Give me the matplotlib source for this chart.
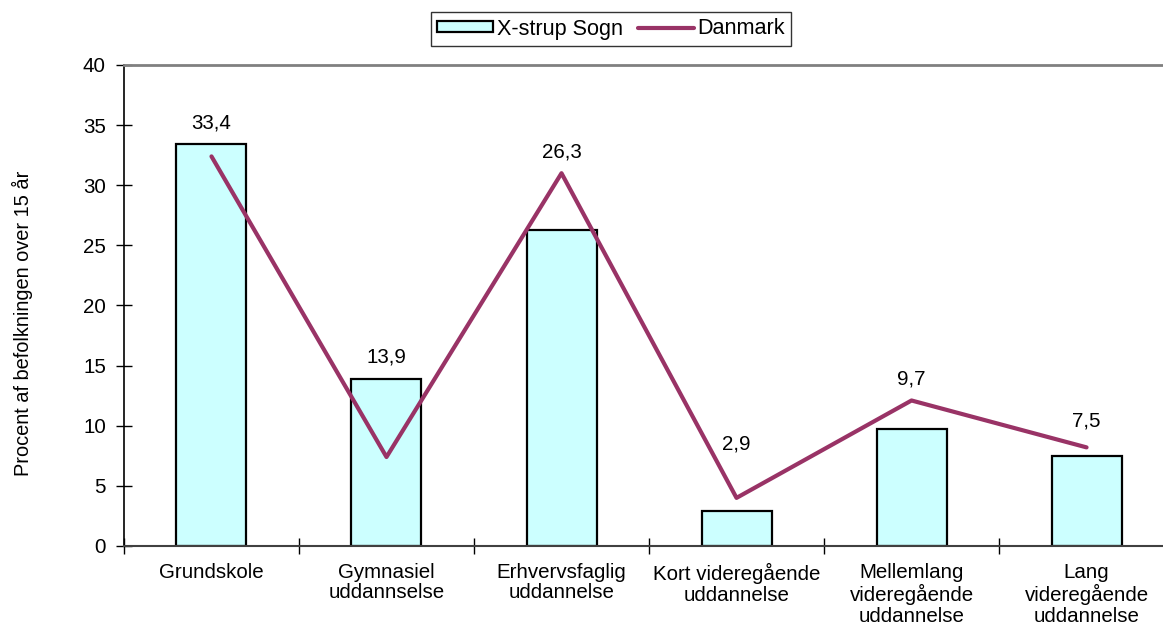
import matplotlib
matplotlib.use("Agg")
import matplotlib.pyplot as plt
import numpy as np

plt.rcParams['font.family'] = ['Liberation Sans', 'DejaVu Sans']

categories = ["Grundskole", "Gymnasiel\nuddannselse", "Erhvervsfaglig\nuddannelse",
              "Kort videregående\nuddannelse", "Mellemlang\nvideregående\nuddannelse",
              "Lang\nvideregående\nuddannelse"]
sogn = [33.4, 13.9, 26.3, 2.9, 9.7, 7.5]
danmark = [32.4, 7.4, 31.0, 4.0, 12.1, 8.2]
value_labels = ["33,4", "13,9", "26,3", "2,9", "9,7", "7,5"]

FS = 14.8

fig = plt.figure(figsize=(11.63, 6.28), dpi=100)
ax = fig.add_axes([0.1066, 0.1306, 0.9029, 0.7659])

x = np.arange(len(categories))
bars = ax.bar(x, sogn, width=0.4, color="#CCFFFF", edgecolor="black", linewidth=1.6,
              label="X-strup Sogn", zorder=2)
line, = ax.plot(x, danmark, color="#993366", linewidth=3, solid_capstyle="round",
                label="Danmark", zorder=3)

# labels sit just above the bar or the line near the bar centre, whichever is higher
for i, lab in enumerate(value_labels):
    near = np.interp([x[i] - 0.1, x[i], x[i] + 0.1], x, danmark)
    y = max(sogn[i], near.max()) + 1.8
    ax.text(x[i], y, lab, ha="center", va="center", fontsize=FS)

ax.set_xlim(-0.5, len(categories) - 0.5)
ax.set_ylim(0, 40)
ax.set_yticks(range(0, 41, 5))
ax.set_xticks(np.arange(-0.5, len(categories), 1.0))
ax.set_xticklabels([])
ax.set_xticks(x, minor=True)
ax.set_xticklabels(categories, minor=True, fontsize=FS, linespacing=1.12)
ax.tick_params(axis="x", which="minor", length=0, pad=12)
ax.tick_params(axis="x", which="major", direction="inout", length=12, width=1)
ax.tick_params(axis="y", direction="inout", length=12, width=1, labelsize=FS, pad=7)

ax.spines["top"].set_color("#808080")
ax.spines["top"].set_linewidth(2)
ax.spines["right"].set_visible(False)
ax.spines["left"].set_color("black")
ax.spines["left"].set_linewidth(1.2)
ax.spines["bottom"].set_color("#404040")
ax.spines["bottom"].set_linewidth(1.5)

ax.set_ylabel("Procent af befolkningen over 15 år", fontsize=14.4)
ax.yaxis.set_label_coords(-0.087, 0.462)

leg = fig.legend([bars, line], ["X-strup Sogn", "Danmark"], loc="center",
                 bbox_to_anchor=(611 / 1163, 1 - 29 / 628), ncol=2,
                 frameon=True, fancybox=False, edgecolor="black", fontsize=15.6,
                 handlelength=2.6, handleheight=0.42, handletextpad=0.15,
                 columnspacing=0.7, borderpad=0.28)
leg.get_frame().set_linewidth(1.0)

fig.savefig("out.png", dpi=100)
